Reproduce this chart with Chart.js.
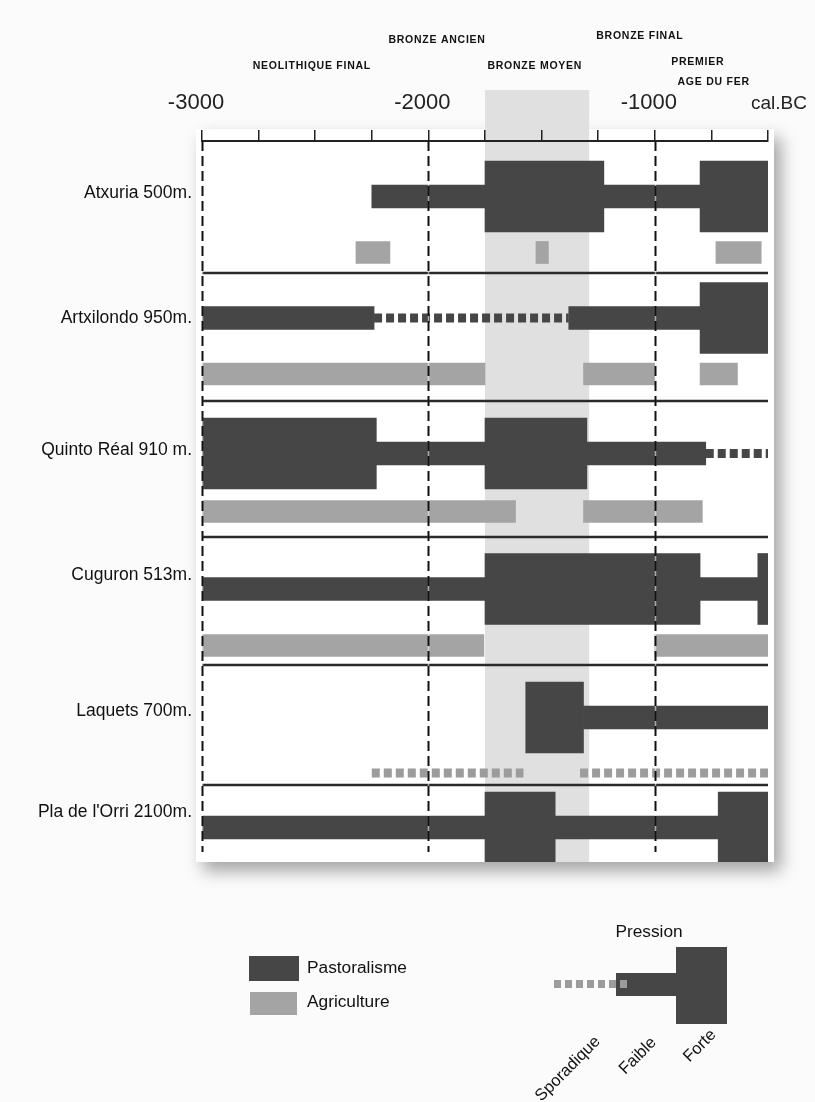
<!DOCTYPE html>
<html>
<head>
<meta charset="utf-8">
<script src="https://cdn.jsdelivr.net/npm/chart.js@4.4.0/dist/chart.umd.min.js"></script>
<style>
html,body{margin:0;padding:0;background:#fbfbfb;}
#wrap{width:815px;height:1102px;position:relative;}
</style>
</head>
<body>
<div id="wrap"><canvas id="c" width="815" height="1102"></canvas></div>
<script>
// ---------------- DATA ----------------
const sites = ['Atxuria 500m.', 'Artxilondo 950m.', 'Quinto Réal 910 m.', 'Cuguron 513m.', 'Laquets 700m.', "Pla de l'Orri 2100m."];

// pastoralism, strong pressure (per site: list of [start, end] in cal. BC years)
const pastoralForte = [
  [[-1750, -1225], [-800, -500]],
  [[-800, -500]],
  [[-3000, -2230], [-1750, -1300]],
  [[-1750, -800], [-545, -500]],
  [[-1570, -1315]],
  [[-1750, -1440], [-720, -500]]
];
// pastoralism, weak pressure
const pastoralFaible = [
  [[-2250, -1750], [-1225, -800]],
  [[-3000, -2240], [-1380, -800]],
  [[-2230, -1750], [-1300, -775]],
  [[-3000, -1750], [-800, -545]],
  [[-1315, -500]],
  [[-3000, -1750], [-1440, -720]]
];
// pastoralism, sporadic
const pastoralSporadique = [
  [],
  [[-2240, -1380]],
  [[-775, -500]],
  [],
  [],
  []
];
// agriculture (continuous)
const agriculture = [
  [[-2320, -2170], [-1525, -1470], [-730, -530]],
  [[-3000, -1750], [-1315, -1000], [-800, -635]],
  [[-3000, -1615], [-1315, -790]],
  [[-3000, -1755], [-1000, -500]],
  [],
  []
];
// agriculture, sporadic
const agricultureSporadique = [
  [], [], [], [],
  [[-2250, -1580], [-1330, -500]],
  []
];
// shaded period (Bronze moyen)
const bandYears = [-1750, -1290];
// axis
const X_MIN = -3000, X_MAX = -500, X_STEP = 250;
const majorTicks = [-3000, -2000, -1000];
const axisUnit = 'cal.BC';
// period labels
const periodLabels = ['NEOLITHIQUE FINAL', 'BRONZE ANCIEN', 'BRONZE MOYEN', 'BRONZE FINAL', 'PREMIER', 'AGE DU FER'];
const periodYears = [-2515, -1962, -1530, -1066, -810, -740];
// legends
const legendLabels = ['Pastoralisme', 'Agriculture'];
const pressionTitle = 'Pression';
const pressionLabels = ['Sporadique', 'Faible', 'Forte'];

// ---------------- LAYOUT (pixels) ----------------
const PLOT_H = 721;
const ROW_SEP = [132, 260, 396, 524, 644];
const PAST_Y = [55.5, 177, 312.5, 448, 576.5, 686.5];
const AGRI_Y = [111.5, 233, 370.5, 504.5, 632, 700];
const LABEL_Y = [52, 177, 309, 434, 570, 671];
const PERIOD_Y = [66, 40, 66, 36, 62, 82];

const DARK = '#464646', LIGHT = '#a4a4a4', BAND = '#e0e0e0';
const FONT = '"Liberation Sans", Arial, sans-serif';

function bars(list, ys) {
  const out = [];
  list.forEach((segs, i) => segs.forEach(s => out.push({ x: s, y: ys[i] })));
  return out;
}
function dotted(list, ys, color) {
  const out = [];
  list.forEach((segs, i) => segs.forEach(s => out.push({
    type: 'line',
    data: [{ x: s[0], y: ys[i] }, { x: s[1], y: ys[i] }],
    borderColor: color, borderWidth: 9, borderDash: [8, 4], borderCapStyle: 'butt',
    pointRadius: 0, fill: false, tension: 0, order: 0
  })));
  return out;
}

const datasets = [
  { type: 'bar', indexAxis: 'y', label: 'forte', data: bars(pastoralForte, PAST_Y), backgroundColor: DARK, barThickness: 71, grouped: false, borderWidth: 0 },
  { type: 'bar', indexAxis: 'y', label: 'faible', data: bars(pastoralFaible, PAST_Y), backgroundColor: DARK, barThickness: 23, grouped: false, borderWidth: 0 },
  { type: 'bar', indexAxis: 'y', label: 'agri', data: bars(agriculture, AGRI_Y), backgroundColor: LIGHT, barThickness: 22, grouped: false, borderWidth: 0 },
  ...dotted(pastoralSporadique, PAST_Y, DARK),
  ...dotted(agricultureSporadique, AGRI_Y, '#9c9c9c')
];

const decor = {
  id: 'decor',
  beforeDraw(chart) {
    const ctx = chart.ctx, xs = chart.scales.x, a = chart.chartArea;
    ctx.save();
    ctx.fillStyle = '#fbfbfb';
    ctx.fillRect(0, 0, chart.width, chart.height);
    ctx.shadowColor = 'rgba(0,0,0,0.35)';
    ctx.shadowBlur = 16; ctx.shadowOffsetX = 7; ctx.shadowOffsetY = 9;
    ctx.fillStyle = '#ffffff';
    ctx.fillRect(a.left - 6, a.top - 12, a.right - a.left + 12, a.bottom - a.top + 12);
    ctx.restore();
    ctx.save();
    const x0 = xs.getPixelForValue(bandYears[0]), x1 = xs.getPixelForValue(bandYears[1]);
    ctx.fillStyle = BAND;
    ctx.fillRect(x0, 90, x1 - x0, a.bottom - 90);
    ctx.restore();
  },
  beforeDatasetsDraw(chart) {
    const ctx = chart.ctx, ys = chart.scales.y, a = chart.chartArea;
    ctx.save();
    ctx.strokeStyle = '#2a2a2a'; ctx.lineWidth = 2.5;
    ROW_SEP.forEach(v => {
      const y = Math.round(ys.getPixelForValue(v));
      ctx.beginPath(); ctx.moveTo(a.left, y); ctx.lineTo(a.right, y); ctx.stroke();
    });
    ctx.restore();
  },
  afterDatasetsDraw(chart) {
    const ctx = chart.ctx, xs = chart.scales.x, a = chart.chartArea;
    ctx.save();
    majorTicks.forEach(t => {
      const x = Math.round(xs.getPixelForValue(t)) + 0.5;
      ctx.setLineDash([]);
      ctx.strokeStyle = 'rgba(255,255,255,0.55)'; ctx.lineWidth = 1.5;
      ctx.beginPath(); ctx.moveTo(x, a.top); ctx.lineTo(x, a.bottom - 10); ctx.stroke();
      ctx.setLineDash([10, 5]);
      ctx.strokeStyle = '#111'; ctx.lineWidth = 2;
      ctx.beginPath(); ctx.moveTo(x, a.top); ctx.lineTo(x, a.bottom - 10); ctx.stroke();
    });
    ctx.setLineDash([]);
    // period labels
    ctx.fillStyle = '#111';
    ctx.font = 'bold 10.5px ' + FONT;
    try { ctx.letterSpacing = '0.75px'; } catch (e) {}
    ctx.textAlign = 'center'; ctx.textBaseline = 'middle';
    periodLabels.forEach((l, i) => ctx.fillText(l, xs.getPixelForValue(periodYears[i]), PERIOD_Y[i]));
    try { ctx.letterSpacing = '0px'; } catch (e) {}
    // unit label
    ctx.font = '19px ' + FONT;
    ctx.fillStyle = '#222';
    ctx.textAlign = 'center';
    ctx.fillText(axisUnit, xs.getPixelForValue(X_MAX) + 11, 104);

    // legend
    ctx.fillStyle = DARK; ctx.fillRect(249, 956, 50, 25);
    ctx.fillStyle = LIGHT; ctx.fillRect(250, 992, 47, 23);
    ctx.fillStyle = '#111'; ctx.font = '17.3px ' + FONT;
    ctx.textAlign = 'left'; ctx.textBaseline = 'middle';
    ctx.fillText(legendLabels[0], 307, 968);
    ctx.fillText(legendLabels[1], 307, 1002);

    // pression legend
    ctx.textAlign = 'center';
    ctx.fillText(pressionTitle, 649, 932);
    ctx.fillStyle = DARK;
    ctx.fillRect(676, 947, 51, 77);
    ctx.fillRect(616, 973, 62, 23);
    ctx.strokeStyle = '#9c9c9c'; ctx.lineWidth = 8; ctx.setLineDash([7, 4]);
    ctx.beginPath(); ctx.moveTo(554, 984); ctx.lineTo(627, 984); ctx.stroke();
    ctx.setLineDash([]);
    ctx.fillStyle = '#111'; ctx.font = '16.5px ' + FONT;
    const pos = [[568, 1069], [638, 1056], [700, 1046]];
    pressionLabels.forEach((l, i) => {
      ctx.save();
      ctx.translate(pos[i][0], pos[i][1]);
      ctx.rotate(-Math.PI / 4);
      ctx.textAlign = 'center'; ctx.textBaseline = 'middle';
      ctx.fillText(l, 0, 0);
      ctx.restore();
    });
    ctx.restore();
  }
};

new Chart(document.getElementById('c'), {
  data: { datasets },
  options: {
    responsive: false,
    animation: false,
    events: [],
    layout: { padding: { left: 0, top: 0, right: 47, bottom: 240 } },
    plugins: { legend: { display: false }, tooltip: { enabled: false } },
    scales: {
      x: {
        type: 'linear', position: 'top', min: X_MIN, max: X_MAX, offset: false,
        afterFit: s => { s.height = 141; },
        ticks: {
          stepSize: X_STEP, autoSkip: false, maxRotation: 0, padding: 14, labelOffset: -6,
          color: '#222', font: { family: FONT, size: 22 },
          callback: v => majorTicks.includes(v) ? String(v) : ''
        },
        grid: { drawOnChartArea: false, drawTicks: true, tickLength: 11, color: '#222', lineWidth: 1.5, offset: false },
        border: { display: true, color: '#222', width: 2 }
      },
      y: {
        type: 'linear', reverse: true, min: 0, max: PLOT_H, offset: false,
        afterFit: s => { s.width = 202; },
        afterBuildTicks: s => { s.ticks = LABEL_Y.map(v => ({ value: v })); },
        ticks: {
          autoSkip: false, padding: 10, color: '#111', font: { family: FONT, size: 17.5 },
          callback: (v, i) => sites[i]
        },
        grid: { display: false, drawTicks: false, offset: false },
        border: { display: false }
      }
    }
  },
  plugins: [decor]
});
</script>
</body>
</html>
